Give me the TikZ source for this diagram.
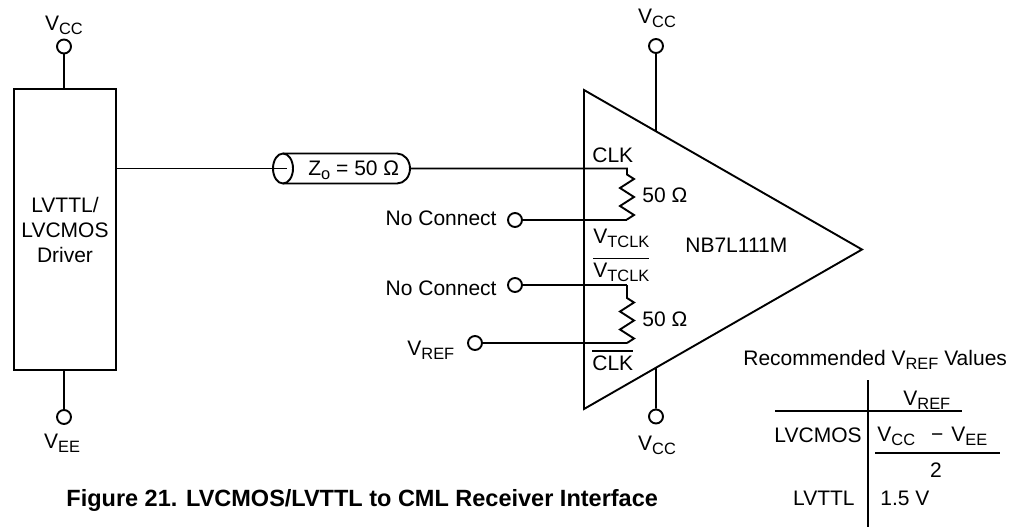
\documentclass[tikz,border=0pt]{standalone}
\usepackage{fontspec}
\setmainfont{Liberation Sans}
\usetikzlibrary{calc}
\newcommand{\lo}[1]{\raisebox{-2pt}{\fontsize{8.2}{9}\selectfont #1}}
\newcommand{\ovl}[1]{\vbox{\hrule height 0.7pt\kern 1.8pt\hbox{#1}}}
\tikzset{
  wire/.style={line width=0.95pt},
  term/.style={draw, circle, line width=0.95pt, fill=white, inner sep=0pt, minimum size=7pt},
  txt/.style={inner sep=0pt, font=\fontsize{10.5}{12.5}\selectfont},
}
\begin{document}
\begin{tikzpicture}[x=0.5pt, y=-0.5pt]
  \useasboundingbox (0,0) rectangle (1024,531);
  % driver side
  \node [draw, wire, txt, align=center, minimum width=51pt, minimum height=140.5pt] (drv) at (65,229.5) {LVTTL/\\LVCMOS\\Driver};
  \node [term] (vcc1) at (64,46.5) {};
  \node [txt, anchor=base] (vcc1l) at (64,30) {V\lo{CC}};
  \node [term] (vee1) at (64,417) {};
  \node [txt, anchor=base] (vee1l) at (62,448) {V\lo{EE}};
  \draw [wire] (vcc1) -- (vcc1 |- drv.north);
  \draw [wire] (vee1) -- (vee1 |- drv.south);
  % line
  \coordinate (cxl) at (283,168.5);
  \coordinate (cxr) at (397,168.5);
  \coordinate (cxin) at (287,168.5);
  \coordinate (cxout) at (410,168.5);
  \draw [wire] (cxl) ellipse [x radius=5pt, y radius=7.5pt];
  \draw [wire] ($(cxl)+(0,-15)$) -- ($(cxr)+(0,-15)$) arc [start angle=90, end angle=-90, x radius=6.5pt, y radius=7.5pt] -- ($(cxl)+(0,15)$);
  \node [txt, anchor=base west] (zo) at (308,175) {Z\lo{o} = 50 Ω};
  \draw [wire] (drv.east |- cxl) -- (cxin);
  % receiver
  \coordinate (tl) at (584,90);
  \coordinate (ap) at (862,249.5);
  \coordinate (bl) at (584,409);
  \draw [wire] (tl) -- (ap) -- (bl) -- cycle;
  \node [term] (vcc2) at (656,46) {};
  \node [txt, anchor=base] (vcc2l) at (657,23) {V\lo{CC}};
  \node [term] (vcc3) at (656,416.5) {};
  \node [txt, anchor=base] (vcc3l) at (657,450) {V\lo{CC}};
  \draw [wire] (vcc2) -- ($(tl)!0.259!(ap)$);
  \draw [wire] (vcc3) -- ($(bl)!0.259!(ap)$);
  \coordinate (r1a) at (627,168.5);
  \coordinate (r1b) at (627,220);
  \coordinate (r2a) at (627,285);
  \coordinate (r2b) at (627,343);
  \draw [wire] (cxout) -- (r1a) -- ++(0,6) -- ++(7,4.5) -- ++(-14,9) -- ++(14,9) -- ++(-14,9) -- ++(14,9) -- ++(-7,4.5) -- (r1b);
  \draw [wire] (r2a) -- ++(0,13) -- ++(7,4.5) -- ++(-14,9) -- ++(14,9) -- ++(-14,9) -- ++(14,9) -- ++(-7,4.5) -- (r2b);
  \node [term] (nc1) at (515,220) {};
  \node [term] (nc2) at (515,285) {};
  \node [term] (vref) at (475,343) {};
  \draw [wire] (nc1) -- (r1b);
  \draw [wire] (nc2) -- (r2a);
  \draw [wire] (vref) -- (r2b);
  \node [txt, anchor=base east] (nc1l) at (497,225) {No Connect};
  \node [txt, anchor=base east] (nc2l) at (497,295) {No Connect};
  \node [txt, anchor=base west] (vrefl) at (407,355) {V\lo{REF}};
  \node [txt, anchor=base west] (clk) at (592,162) {CLK};
  \node [txt, anchor=base west] (vt) at (593,243) {V\lo{TCLK}};
  \node [txt, anchor=base west] (vtb) at (593,277) {\ovl{V\lo{TCLK}}};
  \node [txt, anchor=base west] (clkb) at (592,370) {\ovl{CLK}};
  \node [txt, anchor=base west] (r1l) at (642,202) {50 Ω};
  \node [txt, anchor=base west] (r2l) at (642,326) {50 Ω};
  \node [txt, anchor=base west] (part) at (685,252) {NB7L111M};
  % table
  \node [txt, anchor=base west] (rec) at (743,365) {Recommended V\lo{REF} Values};
  \draw [wire] (868,380) -- (868,527);
  \draw [wire] (775,411) -- (962,411);
  \node [txt, anchor=base west] (hdr) at (903,405) {V\lo{REF}};
  \node [txt, anchor=base east] (cmos) at (862,442) {LVCMOS};
  \node [txt, anchor=base west] (num) at (877,441) {V\lo{CC}\hspace{8pt}−\hspace{4pt}V\lo{EE}};
  \draw [wire] (875,453) -- (1000,453);
  \node [txt, anchor=base] (den) at (936,477) {2};
  \node [txt, anchor=base east] (ttl) at (855,505) {LVTTL};
  \node [txt, anchor=base west] (ttlv) at (880,505) {1.5 V};
  \node [inner sep=0pt, anchor=base west, font=\fontsize{11.75}{14}\selectfont\bfseries] (cap) at (66,506) {Figure 21. LVCMOS/LVTTL to CML Receiver Interface};
\end{tikzpicture}
\end{document}
